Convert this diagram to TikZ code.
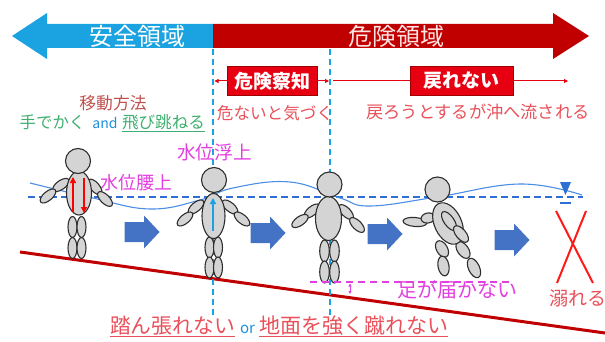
\documentclass[tikz,border=0pt]{standalone}
\usepackage{fontspec}
\setmainfont{Noto Sans CJK JP}
\usetikzlibrary{arrows.meta}

\definecolor{safeblue}{HTML}{1AA3E0}
\definecolor{dangerred}{HTML}{C00000}
\definecolor{boxred}{HTML}{E60012}
\definecolor{boxedge}{HTML}{A00000}
\definecolor{salmon}{HTML}{E9505A}
\definecolor{brownred}{HTML}{C0504D}
\definecolor{leafgreen}{HTML}{3FAF6F}
\definecolor{andblue}{HTML}{1E8FDC}
\definecolor{pinkmag}{HTML}{E23FE0}
\definecolor{waterblue}{HTML}{2E6FD6}
\definecolor{wavebl}{HTML}{4A8EE6}
\definecolor{blockblue}{HTML}{4472C4}
\definecolor{figfill}{HTML}{D4D4D4}
\definecolor{figline}{HTML}{2E2E2E}
\definecolor{xred}{HTML}{FF1A1A}
\definecolor{palepink}{HTML}{FFE4E4}

% one ellipse of a body: centre x, centre y, half length, half width, tilt
\newcommand\bodypart[5]{\draw[figpart, rotate around={#5:(#1,#2)}] (#1,#2) ellipse (#3 and #4);}
\newcommand\fs[1]{\fontsize{#1}{#1}\selectfont}

\tikzset{
  figpart/.style={draw=figline, fill=figfill, line width=1.1pt},
  txt/.style={inner sep=0pt, outer sep=0pt},
  alertbox/.style={draw=boxedge, fill=boxred, text=white, font=\fs{19}\bfseries,
    minimum height=29pt, inner sep=0pt, line width=0.8pt},
  redline/.style={draw=boxred, line width=1pt},
  vdash/.style={draw=safeblue, line width=1.3pt, dash pattern=on 6pt off 4pt},
  waterdash/.style={draw=waterblue, line width=1.6pt, dash pattern=on 7pt off 4pt},
  blockarrow/.pic={\fill[blockblue] (-17.5,-10) -- (2,-10) -- (2,-16.5) -- (17.5,0)
    -- (2,16.5) -- (2,10) -- (-17.5,10) -- cycle;},
}

\begin{document}
\begin{tikzpicture}[x=1pt,y=-1pt]
\useasboundingbox (0,0) rectangle (605,342);

% ---- zone bar: safe (left) and danger (right)
\fill[safeblue] (12,36) -- (47,13) -- (47,24) -- (213,24) -- (213,48) -- (47,48) -- (47,59) -- cycle;
\fill[dangerred] (213,24) -- (553,24) -- (553,13) -- (589,36) -- (553,59) -- (553,48) -- (213,48) -- cycle;
\node[txt, text=white, font=\fs{24}] (safe) at (137,36) {安全領域};
\node[txt, text=palepink, font=\fs{24}] (danger) at (396,36) {危険領域};

% ---- ground
\coordinate (gl) at (20,252);
\coordinate (gr) at (605,333);
\draw[dangerred, line width=3pt] (gl) -- (gr);

% ---- phase boundaries
\coordinate (d1top) at (213,49);
\coordinate (d1bot) at (213,318);
\coordinate (d2top) at (330,49);
\coordinate (d2bot) at (330,318);
\draw[vdash] (d1top) -- (d1bot);
\draw[vdash] (d2top) -- (d2bot);

% ---- phase labels
\node[alertbox, minimum width=90pt] (aware) at (272,81) {危険察知};
\node[alertbox, minimum width=103pt] (noreturn) at (461.5,81) {戻れない};
\coordinate (retstart) at (333,81);
\coordinate (retend) at (568,81);
\draw[redline, -{Triangle[length=4pt,width=4pt]}, shorten >=1.5pt] (aware.west) -- (aware.west -| d1top);
\draw[redline, -{Triangle[length=4pt,width=4pt]}, shorten >=1pt] (aware.east) -- (aware.east -| d2top);
\draw[redline] (retstart) -- (noreturn.west);
\draw[redline, -{Triangle[length=4pt,width=4pt]}] (noreturn.east) -- (retend);

\node[txt, text=salmon, font=\fs{16.6}] (notice) at (275,113) {危ないと気づく};
\node[txt, text=salmon, font=\fs{17.2}] (swept) at (478,112) {戻ろうとするが沖へ流される};

% ---- ways of moving
\node[txt, text=brownred, font=\fs{16.8}] (howto) at (113,103) {移動方法};
\node[txt, text=leafgreen, font=\fs{16.4}, anchor=base] (paddle) at (52.5,128.5) {手でかく};
\node[txt, text=andblue, font=\fs{14}, anchor=base] (andw) at (105,128.5) {and};
\node[txt, text=leafgreen, font=\fs{16.6}, anchor=base] (jump) at (163.5,128.5) {飛び跳ねる};
\draw[leafgreen, line width=0.9pt] ([yshift=-2.5pt]jump.base west) -- ([yshift=-2.5pt]jump.base east);

% ---- water levels
\node[txt, text=pinkmag, font=\fs{18.7}] (float) at (214.5,152) {水位浮上};
\node[txt, text=pinkmag, font=\fs{18}] (waist) at (136,183) {水位腰上};

\coordinate (wl) at (28,197);
\coordinate (wr) at (583,197);
\draw[waterdash] (wl) -- (wr);
\draw[wavebl, line width=1.1pt] plot[smooth, tension=0.7] coordinates
  {(30,183) (93,198) (150,209) (200,200) (233,188) (290,182) (340,198) (370,206) (437,197) (520,184) (582,195)};
\fill[waterblue] (560,182) -- (571,182) -- (565.5,195) -- cycle;
\draw[waterblue, line width=1.5pt] (560,203) -- (571,203);

% ---- flow arrows
\pic (flow1) at (142,232) {blockarrow};
\pic (flow2) at (268,233) {blockarrow};
\pic (flow3) at (385,234) {blockarrow};
\pic (flow4) at (512,240) {blockarrow};

% ---- figure 1: waist deep, walking
\bodypart{61}{185}{9.5}{4.5}{35}
\bodypart{48}{196}{9.5}{4.5}{40}
\bodypart{95}{187}{9.5}{4.5}{-50}
\bodypart{105}{199}{9.5}{4.5}{-45}
\bodypart{72.5}{227}{4.5}{10.5}{0}
\bodypart{81.5}{227}{4.5}{10.5}{0}
\bodypart{72.5}{248}{4.5}{10.5}{0}
\bodypart{81.5}{248}{4.5}{10.5}{0}
\bodypart{79}{193}{12.5}{22}{0}
\draw[figpart] (78,161) circle (12.5);
\coordinate (upa) at (73,212);
\coordinate (upb) at (73,177);
\coordinate (dna) at (84,178);
\coordinate (dnb) at (84,213);
\draw[red, line width=2pt, -{Triangle[length=6pt,width=6pt]}] (upa) -- (upb);
\draw[red, line width=2pt, -{Triangle[length=6pt,width=6pt]}] (dna) -- (dnb);

% ---- figure 2: floating up
\bodypart{196}{207}{9.5}{4.5}{40}
\bodypart{185}{219}{9.5}{4.5}{40}
\bodypart{230}{207}{9.5}{4.5}{-40}
\bodypart{242}{219}{9.5}{4.5}{-40}
\bodypart{209.5}{247.5}{4.5}{10.5}{0}
\bodypart{218}{247.5}{4.5}{10.5}{0}
\bodypart{209.5}{267.5}{4.5}{10.5}{0}
\bodypart{218}{267.5}{4.5}{10.5}{0}
\bodypart{213.5}{216}{11.5}{22.5}{0}
\draw[figpart] (214,180) circle (12.5);
\coordinate (lifta) at (213,231);
\coordinate (liftb) at (213,198);
\draw[safeblue, line width=2pt, -{Triangle[length=6pt,width=6pt]}] (lifta) -- (liftb);

% ---- figure 3: feet off the bottom
\bodypart{312}{211}{9.5}{4.5}{40}
\bodypart{300}{221}{9.5}{4.5}{35}
\bodypart{346}{212}{9.5}{4.5}{-45}
\bodypart{357}{225}{9.5}{4.5}{-45}
\bodypart{324.5}{251}{4.8}{11}{0}
\bodypart{334.5}{251}{4.8}{11}{0}
\bodypart{324.5}{272}{4.8}{11}{0}
\bodypart{334.5}{272}{4.8}{11}{0}
\bodypart{328.5}{218.5}{13}{22}{0}
\draw[figpart] (329.5,184.5) circle (12.5);

\coordinate (reachl) at (310,282);
\coordinate (reachr) at (512,282);
\draw[pinkmag, line width=1.5pt, dash pattern=on 7pt off 5pt] (reachl) -- (reachr);
\coordinate (gapa) at (350,283.5);
\coordinate (gapb) at (350,294);
\draw[pinkmag, line width=0.8pt, {Triangle[length=3pt,width=3pt]}-{Triangle[length=3pt,width=3pt]}] (gapa) -- (gapb);
\node[txt, text=pinkmag, font=\fs{20}] (noreach) at (457,290) {足が届かない};

% ---- figure 4: swept away
\bodypart{415}{222}{12}{4.5}{-5}
\bodypart{428}{218}{7}{5}{10}
\bodypart{442}{249}{5.5}{9}{30}
\bodypart{443.5}{266}{5.5}{10}{10}
\bodypart{463}{250}{5.5}{9.5}{35}
\bodypart{474}{268}{5.5}{10.5}{25}
\bodypart{448}{223.5}{13.5}{22}{25}
\bodypart{449}{221}{5}{11}{35}
\bodypart{461}{234}{5}{10}{40}
\draw[figpart] (437.5,189.5) circle (12.5);

% ---- drowning
\coordinate (xa) at (556,211);
\coordinate (xb) at (593,283);
\coordinate (xc) at (586,211);
\coordinate (xd) at (557,283);
\draw[xred, line width=2pt] (xa) -- (xb);
\draw[xred, line width=2pt] (xc) -- (xd);
\node[txt, text=salmon, font=\fs{19}] (drown) at (578,298) {溺れる};

% ---- bottom caption
\node[txt, text=salmon, font=\fs{20.8}, anchor=base] (nobrace) at (172.5,333) {踏ん張れない};
\node[txt, text=andblue, font=\fs{15}, anchor=base] (orw) at (247.5,333) {or};
\node[txt, text=salmon, font=\fs{21}, anchor=base] (nokick) at (353.5,333) {地面を強く蹴れない};
\draw[salmon, line width=0.9pt] ([yshift=-3pt]nobrace.base west) -- ([yshift=-3pt]nobrace.base east);
\draw[salmon, line width=0.9pt] ([yshift=-3pt]nokick.base west) -- ([yshift=-3pt]nokick.base east);
\end{tikzpicture}
\end{document}
